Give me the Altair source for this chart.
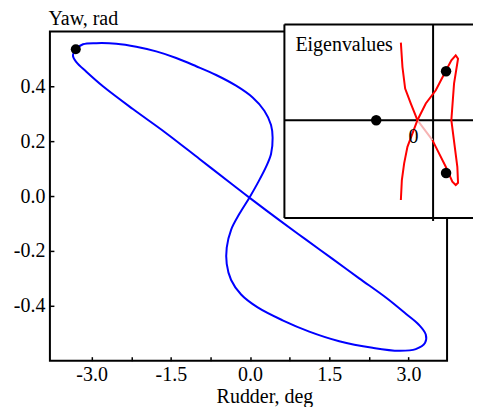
import altair as alt
import pandas as pd

# ---- main trajectory: rudder (deg) vs yaw (rad), in drawing order ----
rudder = [-3.302, -3.164, -2.911, -2.533, -2.155, -1.777, -1.399, -1.021, -0.643, -0.265,
          0.049, 0.270, 0.397, 0.427, 0.397, 0.302, 0.144, -0.013, -0.202, -0.359,
          -0.442, -0.442, -0.359, -0.170, 0.144, 0.616, 1.121, 1.688, 2.318, 2.822,
          3.138, 3.314, 3.327, 3.200, 2.949, 2.571, 2.066, 1.561, 1.059, 0.554,
          -0.013, -0.329, -0.958, -1.588, -2.219, -2.786, -3.100, -3.289, -3.354, -3.302]
yaw = [0.535, 0.553, 0.557, 0.555, 0.544, 0.527, 0.503, 0.473, 0.441, 0.402,
       0.359, 0.311, 0.259, 0.212, 0.153, 0.106, 0.047, -0.006, -0.065, -0.123,
       -0.188, -0.247, -0.306, -0.359, -0.406, -0.453, -0.494, -0.529, -0.553, -0.564,
       -0.558, -0.535, -0.505, -0.470, -0.429, -0.370, -0.300, -0.229, -0.159, -0.088,
       -0.006, 0.041, 0.135, 0.229, 0.317, 0.400, 0.453, 0.488, 0.511, 0.535]
marker_rudder = [-3.30]
marker_yaw = [0.535]

x_ticks = [-3.0, -2.25, -1.5, -0.75, 0.0, 0.75, 1.5, 2.25, 3.0]
y_ticks = [-0.4, -0.2, 0.0, 0.2, 0.4]

# ---- inset: eigenvalue locus (Re, Im) ----
locus1_re = [-0.646, -0.614, -0.56, -0.446, -0.314]
locus1_im = [1.554, 1.066, 0.634, 0.334, 0.0]
locus_faded_re = [-0.314, -0.014]
locus_faded_im = [0.0, -0.40]
locus2_re = [-0.014, 0.054, 0.254, 0.386, 0.454, 0.50, 0.486, 0.366, 0.42, 0.50,
             0.454, 0.366, 0.254, 0.054, -0.146, -0.314, -0.514, -0.58, -0.626, -0.646]
locus2_im = [-0.40, -0.534, -0.934, -1.234, -1.30, -1.254, -0.934, 0.0, 0.734, 1.234,
             1.30, 1.20, 0.986, 0.60, 0.334, 0.0, -0.534, -0.866, -1.20, -1.60]
eig_re = [-1.14, 0.26, 0.26]
eig_im = [0.0, 0.98, -1.06]

# ---- layout / style constants ----
W, H = 398, 330
FONT = "Liberation Serif"
X_DOM = [-3.79, 3.73]
Y_DOM = [-0.6, 0.6]
IN_X_DOM = [-7.68, 0.28]
IN_Y_DOM = [-4.82, 1.78]
BOX_L, BOX_R, BOX_B, BOX_T = -2.98, 0.8, -1.96, 1.92

traj = pd.DataFrame({"rudder": rudder, "yaw": yaw, "i": list(range(len(rudder)))})
marker = pd.DataFrame({"rudder": marker_rudder, "yaw": marker_yaw})

lab_x = ("abs(datum.value/1.5 - round(datum.value/1.5)) < 0.01 ? "
         "(datum.value < 0 ? '-' : '') + format(abs(datum.value), '.1f') : ''")
lab_y = "(datum.value < 0 ? '-' : '') + format(abs(datum.value), '.1f')"

X = alt.X("rudder:Q", scale=alt.Scale(domain=X_DOM, nice=False, zero=False),
          axis=alt.Axis(values=x_ticks, labelExpr=lab_x, offset=-4, tickSize=4,
                        labelPadding=4, labelOverlap=False, labelFlush=False,
                        labelFont=FONT, labelFontSize=20, labelColor="black",
                        title="Rudder, deg", titleX=215, titleY=46,
                        titleAlign="center", titleBaseline="alphabetic",
                        titleFont=FONT, titleFontSize=20, titleFontWeight="normal"))
Y = alt.Y("yaw:Q", scale=alt.Scale(domain=Y_DOM, nice=False, zero=False),
          axis=alt.Axis(values=y_ticks, labelExpr=lab_y, offset=-4, tickSize=4,
                        labelPadding=5, labelOverlap=False, labelFlush=False,
                        labelFont=FONT, labelFontSize=20, labelColor="black",
                        title="Yaw, rad", titleAngle=0, titleX=-6, titleY=-7,
                        titleAlign="left", titleBaseline="alphabetic",
                        titleFont=FONT, titleFontSize=20, titleFontWeight="normal"))

line = alt.Chart(traj).mark_line(color="#0000ff", strokeWidth=2,
                                 interpolate="catmull-rom").encode(x=X, y=Y, order="i:Q")
dot = alt.Chart(marker).mark_circle(color="black", opacity=1, size=100).encode(
    x="rudder:Q", y="yaw:Q")
main = alt.layer(line, dot)

# ---- inset ----
def IX(f):
    return alt.X(f, scale=alt.Scale(domain=IN_X_DOM, nice=False, zero=False), axis=None)

def IY(f):
    return alt.Y(f, scale=alt.Scale(domain=IN_Y_DOM, nice=False, zero=False), axis=None)

box = pd.DataFrame({"x0": [BOX_L], "x1": [BOX_R], "y0": [BOX_B], "y1": [BOX_T]})
fill = alt.Chart(box).mark_rect(color="white").encode(
    x=IX("x0:Q"), x2="x1:Q", y=IY("y0:Q"), y2="y1:Q")

hrules = pd.DataFrame({"x0": [BOX_L, BOX_L, BOX_L], "x1": [BOX_R, BOX_R, BOX_R],
                       "y": [BOX_T, BOX_B, 0.0]})
hr = alt.Chart(hrules).mark_rule(color="black", strokeWidth=2).encode(
    x=IX("x0:Q"), x2="x1:Q", y=IY("y:Q"))
vrules = pd.DataFrame({"x": [BOX_L, 0.0], "y0": [BOX_B, BOX_B - 0.06], "y1": [BOX_T, BOX_T]})
vr = alt.Chart(vrules).mark_rule(color="black", strokeWidth=2).encode(
    x=IX("x:Q"), y=IY("y0:Q"), y2="y1:Q")

def locus(re, im, color):
    df = pd.DataFrame({"re": re, "im": im, "i": list(range(len(re)))})
    return alt.Chart(df).mark_line(color=color, strokeWidth=2).encode(
        x=IX("re:Q"), y=IY("im:Q"), order="i:Q")

l1 = locus(locus1_re, locus1_im, "#ff0000")
lf = locus(locus_faded_re, locus_faded_im, "#f6b3b3")
l2 = locus(locus2_re, locus2_im, "#ff0000")

eig = pd.DataFrame({"re": eig_re, "im": eig_im})
eigdots = alt.Chart(eig).mark_circle(color="black", opacity=1, size=110).encode(
    x=IX("re:Q"), y=IY("im:Q"))

labels = pd.DataFrame({"re": [-2.76], "im": [1.386], "t": ["Eigenvalues"]})
txt = alt.Chart(labels).mark_text(font=FONT, fontSize=20, align="left",
                                  baseline="alphabetic", color="black").encode(
    x=IX("re:Q"), y=IY("im:Q"), text="t:N")
zero = pd.DataFrame({"re": [-0.394], "im": [-0.454], "t": ["0"]})
ztxt = alt.Chart(zero).mark_text(font=FONT, fontSize=20, align="center",
                                 baseline="alphabetic", color="black").encode(
    x=IX("re:Q"), y=IY("im:Q"), text="t:N")

inset = alt.layer(fill, hr, vr, l1, lf, l2, eigdots, txt, ztxt)

chart = alt.layer(main, inset).resolve_scale(
    x="independent", y="independent"
).properties(
    width=W, height=H, padding={"left": 5, "top": 0, "right": 0, "bottom": 0}
).configure_view(
    stroke="black", strokeWidth=2
).configure_axis(
    domain=False, grid=False, tickColor="black", tickWidth=1.5,
    labelColor="black", labelFont=FONT, labelFontSize=20,
    titleColor="black", titleFont=FONT, titleFontSize=20, titleFontWeight="normal"
)

chart.save("out.html", embed_options={"renderer": "svg", "actions": False})
